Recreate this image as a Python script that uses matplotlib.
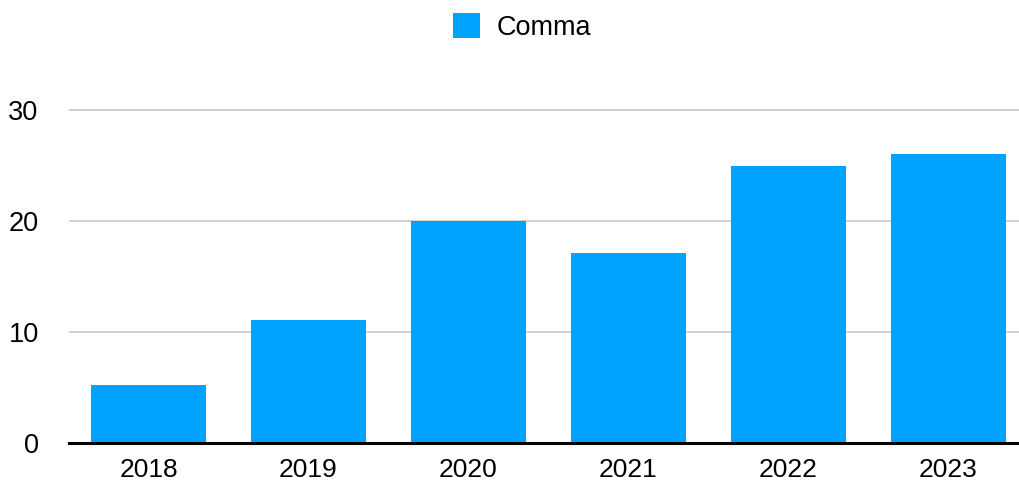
import matplotlib.pyplot as plt

# Data
years = ['2018', '2019', '2020', '2021', '2022', '2023']
comma = [5.2, 11.1, 20, 17.1, 25, 26]
yticks = [0, 10, 20, 30]

barColour = '#00A2FF'
plt.rcParams['font.family'] = ['Liberation Sans', 'DejaVu Sans']

fig = plt.figure(figsize=(10.19, 4.84), dpi=100)
# axes box in figure pixels: left 68.5, bottom 443, width 960 (runs past right edge), top 100
W, H = 1019.0, 484.0
ax = fig.add_axes([68.5 / W, (H - 443) / H, 960 / W, 343 / H])

x = list(range(len(years)))
ax.bar(x, comma, width=0.72, color=barColour, label='Comma', zorder=2)

ax.set_xlim(-0.5, len(years) - 0.5)
ax.set_ylim(0, 30 * 343 / 333)
ax.set_yticks(yticks)
ax.set_yticklabels([str(t) for t in yticks], fontsize=19.5)
ax.set_xticks(x)
ax.set_xticklabels(years, fontsize=19)
ax.tick_params(axis='both', length=0)
ax.tick_params(axis='y', pad=21.5)
ax.tick_params(axis='x', pad=11)

ax.grid(axis='y', color='#c8c8c8', linewidth=1.2, zorder=0)
for side in ['top', 'right', 'left']:
    ax.spines[side].set_visible(False)
ax.spines['bottom'].set_linewidth(2.2)
ax.spines['bottom'].set_color('black')
ax.spines['bottom'].set_zorder(3)

leg = fig.legend(loc='center', bbox_to_anchor=(522 / W, (H - 27) / H), frameon=False,
                 fontsize=19.5, handlelength=1.0, handleheight=1.0, handletextpad=0.6)

fig.savefig('out.png', dpi=100)
